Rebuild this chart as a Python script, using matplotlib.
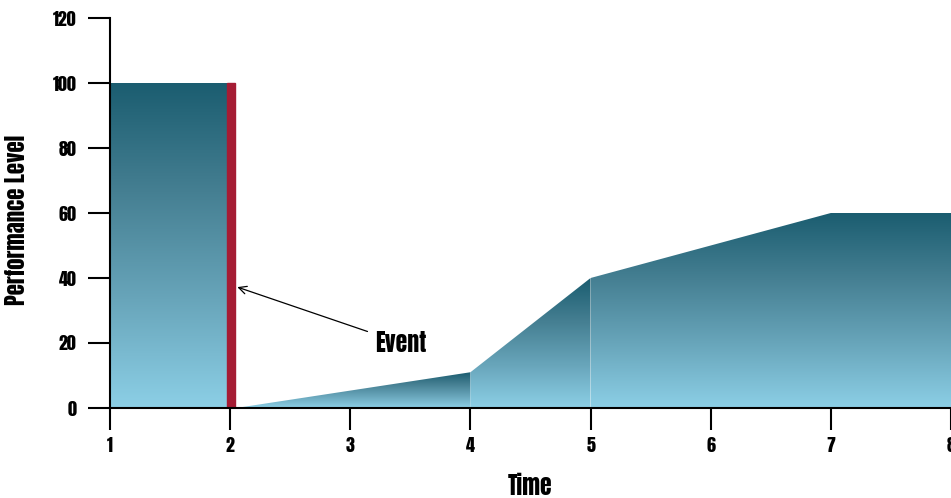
import numpy as np
import matplotlib.pyplot as plt
from matplotlib.patches import Polygon, Rectangle
from matplotlib.colors import LinearSegmentedColormap

# performance curve, split into shaded pieces
seg_x = [[1, 2], [2.05, 4], [4, 5], [5, 7, 8]]
seg_y = [[100, 100], [0, 11], [11, 40], [40, 60, 60]]
event_x = 2.0
event_y = 100
x_ticks = [1, 2, 3, 4, 5, 6, 7, 8]
y_ticks = [0, 20, 40, 60, 80, 100, 120]

plt.rcParams['font.family'] = ['Anton', 'DejaVu Sans']

shade = LinearSegmentedColormap.from_list('shade', ['#8ccfe6', '#68a5ba', '#457f92', '#1b5d70'])
grad = np.linspace(0, 1, 256).reshape(-1, 1)

fig = plt.figure(figsize=(9.51, 4.98), dpi=100)
ax = fig.add_axes([110/951, 1-408/498, 841/951, 390/498])

for xs, ys in zip(seg_x, seg_y):
    top = max(ys)
    verts = [(xs[0], 0)] + list(zip(xs, ys)) + [(xs[-1], 0)]
    poly = Polygon(verts, closed=True, facecolor='none', edgecolor='none')
    ax.add_patch(poly)
    im = ax.imshow(grad, cmap=shade, origin='lower', aspect='auto',
                   extent=[xs[0], xs[-1], 0, top], zorder=1)
    im.set_clip_path(poly)

# event marker
ax.add_patch(Rectangle((event_x - 0.025, 0), 0.065, event_y, color='#a51c34', zorder=2))

ax.annotate('Event', xy=(2.06, 37.2), xytext=(3.21, 20),
            fontsize=17, va='center', ha='left',
            arrowprops=dict(arrowstyle='->', color='black', lw=0.9,
                            shrinkA=4, shrinkB=0, mutation_scale=14))

ax.set_xlim(1, 8)
ax.set_ylim(0, 120)
ax.set_xticks(x_ticks)
ax.set_yticks(y_ticks)
ax.tick_params(axis='both', length=16, width=1.5, labelsize=13)
ax.tick_params(axis='y', pad=8)
ax.tick_params(axis='x', pad=5)
for s in ['top', 'right']:
    ax.spines[s].set_visible(False)
for s in ['left', 'bottom']:
    ax.spines[s].set_linewidth(1.5)
    ax.spines[s].set_zorder(5)

ax.set_xlabel('Time', fontsize=17)
ax.set_ylabel('Performance Level', fontsize=16.5)
ax.xaxis.set_label_coords(0.5, -0.168)
ax.yaxis.set_label_coords(-0.097, 0.482)

fig.savefig('out.png', dpi=100)
